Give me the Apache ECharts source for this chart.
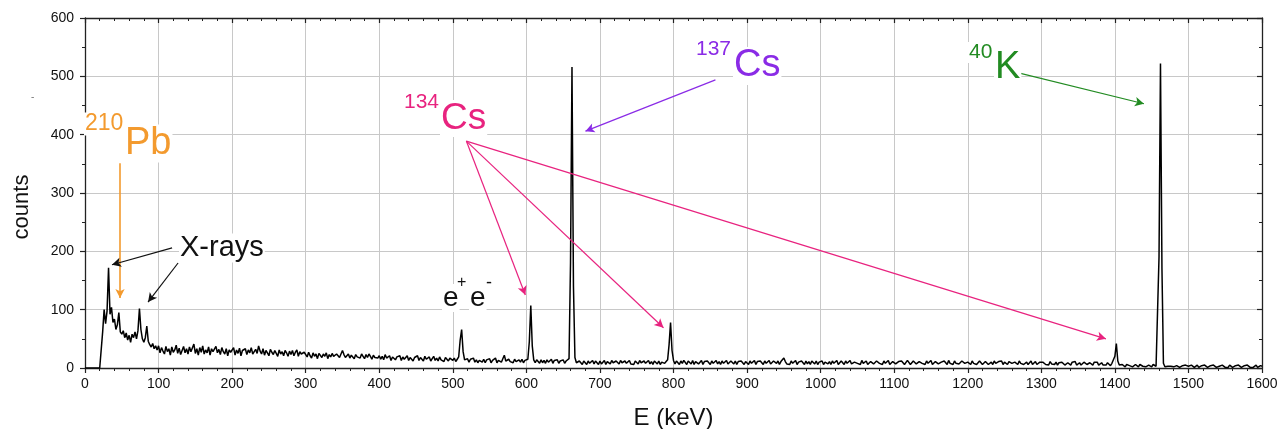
<!DOCTYPE html>
<html>
<head>
<meta charset="utf-8">
<script src="https://cdn.jsdelivr.net/npm/echarts@6/dist/echarts.min.js"></script>
<style>
html,body{margin:0;padding:0;background:#fff;}
#chart{width:1281px;height:429px;}
</style>
</head>
<body>
<div id="chart"></div>
<script>
// ---- data ----
const energyStepKeV = 2; // channel calibration: energy = index * 2 keV
const counts = [
// 0-98
0,0,0,0,0,0,0,0,0,0,0,0,62,100,76,98,172,92,104,78,84,66,74,95,62,58,64,52,60,48,56,44,58,52,62,50,64,102,66,50,44,52,72,46,40,36,42,33,38,31,
// 100-198
38,26,35,29,24,37,28,33,22,36,27,31,39,25,34,23,30,37,26,33,24,36,28,31,41,25,33,22,35,27,38,24,31,26,36,22,33,28,25,37,26,32,23,35,28,24,33,21,31,27,
// 200-298
29,35,22,31,25,34,21,30,27,33,23,31,26,35,24,21,32,25,38,29,24,33,22,30,26,21,32,27,23,30,25,20,31,24,28,21,30,26,20,29,23,30,21,27,31,20,28,24,22,27,
// 300-398
26,19,27,21,17,26,20,24,16,25,27,18,24,20,26,16,23,19,25,20,17,24,26,18,21,30,23,18,21,24,17,22,25,16,23,19,22,17,24,20,16,23,18,24,20,15,22,18,21,17,
// 400-498
21,15,20,14,23,17,15,21,13,19,22,14,19,16,21,13,19,15,17,21,13,18,20,12,18,15,21,13,18,15,12,20,15,14,19,12,16,20,13,17,12,19,14,17,11,18,15,12,17,14,
// 500-598
13,17,11,15,19,48,66,28,14,11,16,10,15,12,17,10,14,9,13,16,10,15,9,14,11,16,9,13,11,17,9,13,15,10,16,22,12,9,15,11,14,9,15,11,8,14,10,15,9,13,
// 600-698
11,15,45,107,38,14,9,14,11,8,14,9,13,8,14,10,12,15,8,13,10,14,8,12,10,14,8,12,15,16,180,516,140,18,9,7,12,9,6,12,10,6,12,8,11,13,7,12,10,6,
// 700-798
12,7,10,13,6,11,12,7,13,9,6,12,10,7,13,9,6,12,8,11,13,7,10,6,12,10,7,13,9,6,12,8,10,13,7,11,6,12,10,7,12,6,10,13,8,11,14,40,78,30,
// 800-898
13,7,12,9,6,12,8,13,10,6,12,9,7,13,6,11,12,7,10,13,6,11,8,12,10,6,12,8,10,13,7,11,6,12,8,10,13,7,6,12,10,7,12,6,11,8,12,10,6,11,
// 900-998
11,6,12,8,10,13,6,11,8,12,10,6,12,8,11,13,7,6,12,10,8,12,6,11,13,17,11,7,10,6,12,8,11,13,6,10,8,12,10,6,12,7,11,6,12,10,7,12,6,10,
// 1000-1098
8,12,6,10,13,7,11,6,12,8,10,13,6,8,12,10,6,12,8,11,13,7,6,10,12,8,11,6,13,8,10,12,6,8,11,13,7,6,12,10,8,11,6,12,8,10,13,6,8,11,
// 1100-1198
12,7,6,11,8,12,10,6,8,13,10,6,8,12,10,7,6,11,12,8,10,6,12,8,10,13,6,8,11,12,7,6,10,8,12,10,6,13,8,10,6,12,8,11,7,6,12,10,8,6,
// 1200-1298
10,7,6,12,8,11,6,8,12,10,6,8,11,13,6,8,10,6,12,8,6,11,8,12,6,10,8,6,11,12,8,6,10,8,6,12,8,11,6,8,10,6,8,12,6,8,11,6,8,10,
// 1300-1398
7,10,11,6,9,5,11,7,9,6,10,5,9,7,10,11,5,7,9,6,5,10,7,11,5,7,9,5,8,10,11,6,5,9,7,5,10,7,10,5,7,9,5,8,5,9,7,4,8,6,
// 1400-1498
20,42,12,5,3,6,4,2,6,3,4,6,2,4,6,3,2,6,4,3,6,2,4,5,3,2,6,4,3,6,190,522,170,8,2,4,3,1,3,5,2,1,4,5,1,3,4,1,5,2,
// 1500-1598
3,1,5,2,1,3,5,1,3,4,1,5,3,1,3,4,1,5,2,1,4,3,1,5,2,1,3,1,5,3,1,3,4,1,5,2,1,3,4,1,5,2,1,3,1,3,5,1,2,4,
// 1600
3
];
const xTicks = {min: 0, max: 1600, interval: 100};
const yTicks = {min: 0, max: 600, interval: 100};

// annotation arrows in data coordinates [keV, counts]
const arrowStart = [[47.6,351],[118.4,206],[126.5,180],[518.4,389],[518.4,389],[518.4,389],[857,494],[1269,506]];
const arrowEnd   = [[47.6,120],[36.7,177],[85.7,113],[598.6,125],[786.4,69],[1387.8,50],[680.3,406],[1439.5,453]];
const arrowGroup = ['Pb210','xray','xray','Cs134','Cs134','Cs134','Cs137','K40'];

// ---- styles ----
const FONT = '"Liberation Sans", Arial, Helvetica, sans-serif';
const colorOf = {Pb210:'#f39a2e', xray:'#111111', Cs134:'#e8237f', Cs137:'#8a2be6', K40:'#228b22'};

const spectrum = counts.map((c, i) => [i * energyStepKeV, c]);

const markLineData = arrowStart.map((s, i) => [
  {coord: s, lineStyle: {color: colorOf[arrowGroup[i]], width: arrowGroup[i]==='Pb210'?1.6:1.2, type:'solid'}},
  {coord: arrowEnd[i]}
]);

function txt(x, y, s, size, color, bg) {
  const style = {text: s, font: size + 'px ' + FONT, fill: color, align: 'left', verticalAlign: 'middle'};
  if (bg) { style.backgroundColor = '#fff'; style.padding = [0, 1]; }
  return {type: 'text', x: x, y: y, silent: true, z: 50, style: style};
}

const axisColor = '#222';
const plainNum = v => String(v);
const chart = echarts.init(document.getElementById('chart'), null, {renderer: 'canvas'});
chart.setOption({
  animation: false,
  backgroundColor: '#fff',
  grid: {left: 85, right: 19, top: 18, bottom: 61, containLabel: false, outerBoundsMode: 'none'},
  xAxis: [{
    type: 'value', min: xTicks.min, max: xTicks.max, interval: xTicks.interval,
    position: 'bottom',
    name: 'E (keV)', nameLocation: 'middle', nameGap: 38,
    nameTextStyle: {fontSize: 24, color: '#111', fontFamily: FONT},
    axisLine: {show: true, onZero: false, lineStyle: {color: axisColor, width: 1.3}},
    axisTick: {show: true, inside: false, length: 5, lineStyle: {color: axisColor, width: 1.2}},
    minorTick: {show: true, splitNumber: 5, length: 3, lineStyle: {color: axisColor, width: 1}},
    splitLine: {show: true, lineStyle: {color: '#c8c8c8', width: 1}},
    axisLabel: {fontSize: 14, color: '#111', fontFamily: FONT, margin: 9, formatter: plainNum}
  }, {
    type: 'value', min: xTicks.min, max: xTicks.max, interval: xTicks.interval,
    position: 'top',
    axisLine: {show: true, onZero: false, lineStyle: {color: axisColor, width: 1.3}},
    axisTick: {show: true, inside: true, length: 5, lineStyle: {color: axisColor, width: 1.2}},
    minorTick: {show: true, splitNumber: 5, length: 3, lineStyle: {color: axisColor, width: 1}},
    splitLine: {show: false},
    axisLabel: {show: false}
  }],
  yAxis: [{
    type: 'value', min: yTicks.min, max: yTicks.max, interval: yTicks.interval,
    position: 'left',
    axisLine: {show: true, onZero: false, lineStyle: {color: axisColor, width: 1.3}},
    axisTick: {show: true, inside: false, length: 5, lineStyle: {color: axisColor, width: 1.2}},
    minorTick: {show: true, splitNumber: 2, length: 3, lineStyle: {color: axisColor, width: 1}},
    splitLine: {show: true, lineStyle: {color: '#c8c8c8', width: 1}},
    axisLabel: {fontSize: 14, color: '#111', fontFamily: FONT, margin: 11, formatter: plainNum}
  }, {
    type: 'value', min: yTicks.min, max: yTicks.max, interval: yTicks.interval,
    position: 'right',
    axisLine: {show: true, onZero: false, lineStyle: {color: axisColor, width: 1.3}},
    axisTick: {show: true, inside: true, length: 5, lineStyle: {color: axisColor, width: 1.2}},
    minorTick: {show: true, splitNumber: 2, length: 3, lineStyle: {color: axisColor, width: 1}},
    splitLine: {show: false},
    axisLabel: {show: false}
  }],
  series: [{
    type: 'line',
    xAxisIndex: 0, yAxisIndex: 0,
    data: spectrum,
    showSymbol: false,
    symbol: 'none',
    lineStyle: {color: '#000', width: 1.5},
    silent: true,
    z: 3,
    markLine: {
      silent: true,
      symbol: ['none', 'arrow'],
      symbolSize: [7, 9],
      label: {show: false},
      emphasis: {disabled: true},
      data: markLineData
    }
  }],
  graphic: [
    {type: 'text', x: 22, y: 207, rotation: Math.PI / 2, silent: true,
     style: {text: 'counts', font: '22px ' + FONT, fill: '#111', align: 'center', verticalAlign: 'middle'}},
    txt(31, 97, '-', 10, '#777', false),
    txt(84, 124, '210', 23, colorOf.Pb210, true),
    txt(124, 143.5, 'Pb', 38, colorOf.Pb210, true),
    txt(179, 248, 'X-rays', 29, '#111', true),
    txt(442, 298, 'e', 28, '#111', true),
    txt(457, 283, '+', 16, '#111', false),
    txt(469, 298, 'e', 28, '#111', true),
    txt(486, 283, '-', 18, '#111', false),
    txt(403, 102.5, '134', 21, colorOf.Cs134, true),
    txt(440, 118.5, 'Cs', 37, colorOf.Cs134, true),
    txt(695, 49.5, '137', 21, colorOf.Cs137, true),
    txt(733, 66, 'Cs', 38, colorOf.Cs137, true),
    txt(968, 52.5, '40', 21, colorOf.K40, true),
    txt(994, 67.5, 'K', 38, colorOf.K40, true)
  ]
});
</script>
</body>
</html>
